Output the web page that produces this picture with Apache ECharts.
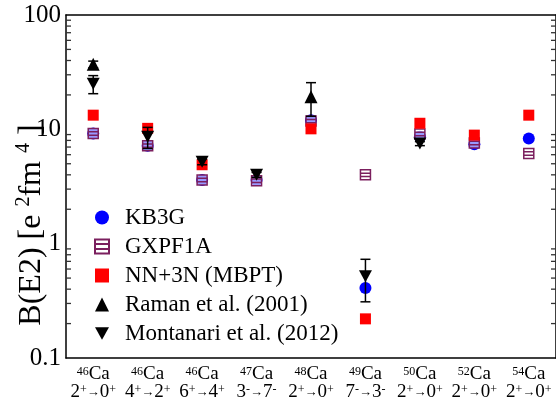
<!DOCTYPE html>
<html><head><meta charset="utf-8">
<script src="https://cdn.jsdelivr.net/npm/echarts@6/dist/echarts.min.js"></script>
<style>html,body{margin:0;padding:0;background:#fff}#c{width:556px;height:402px}</style>
</head><body><div id="c"></div>
<script>
// ---- data ----
const massNumbers = ['46','46','46','47','48','49','50','52','54'];
const initSpin    = ['2','4','6','3','2','7','2','2','2'];
const initParity  = ['+','+','+','-','+','-','+','+','+'];
const finalSpin   = ['0','2','4','7','0','3','0','0','0'];
const finalParity = ['+','+','+','-','+','-','+','+','+'];
const categories  = massNumbers.map((m,i)=>m+'Ca '+initSpin[i]+initParity[i]+'→'+finalSpin[i]+finalParity[i]);

const kb3g      = [9.2, 7.2, 3.6, 3.6, 12.0, 0.41, 8.6, 7.4, 8.3];
const gxpf1a    = [9.2, 7.2, 3.6, 3.55, 11.8, 4.0, 9.1, 7.6, 6.15];
const nn3n      = [13.3, 10.2, 4.9, null, 10.1, 0.22, 11.3, 8.9, 13.3];
const raman     = [37, null, null, null, 19.3, null, null, null, null];
const ramanErr  = [2.5, null, null, null, 6.3, null, null, null, null];
const montanari = [25, 8.6, 5.2, 4.0, null, 0.52, 7.5, null, null];
const montErr   = [4.5, 1.8, 0.3, 0.2, null, 0.21, 0.3, null, null];
const yTicks = [0.1, 1, 10, 100];
const minorMult = [2,3,4,5,6,7,8,9];

const FONT = "'Liberation Serif', 'Times New Roman', Times, serif";
const series = [];
function pts(arr){ return arr.map((v,i)=> v==null? null : [i, v]).filter(d=>d); }
function errs(v, e){ const out=[]; v.forEach((x,i)=>{ if(x!=null && e[i]!=null) out.push([i, x-e[i], x+e[i]]); }); return out; }
const downTri = 'path://M0,0 L10,0 L5,9 Z';
const hatchSq = 'path://M0,0 L10,0 L10,10 L0,10 Z M0,3.3 L10,3.3 M0,6.7 L10,6.7';

series.push({name:'KB3G', type:'scatter', data:pts(kb3g), symbol:'circle', symbolSize:12,
  itemStyle:{color:'#0000ff', opacity:1}, z:2});
series.push({name:'GXPF1A', type:'scatter', data:pts(gxpf1a), symbol:hatchSq, symbolSize:10,
  itemStyle:{color:'rgba(255,255,255,0.6)', borderColor:'#7b1f5e', borderWidth:1.5, opacity:1}, z:3});
series.push({name:'NN+3N (MBPT)', type:'scatter', data:pts(nn3n), symbol:'rect', symbolSize:11,
  itemStyle:{color:'#ff0000', opacity:1}, z:4});
function errSeries(d){
  return {type:'custom', data:d, encode:{x:0,y:[1,2]}, z:5, silent:true,
    renderItem:function(params, api){
      const p1 = api.coord([api.value(0), api.value(1)]);
      const p2 = api.coord([api.value(0), api.value(2)]);
      const w = 5;
      const st = {stroke:'#000', lineWidth:1.5};
      return {type:'group', children:[
        {type:'line', shape:{x1:p1[0],y1:p1[1],x2:p2[0],y2:p2[1]}, style:st},
        {type:'line', shape:{x1:p1[0]-w,y1:p1[1],x2:p1[0]+w,y2:p1[1]}, style:st},
        {type:'line', shape:{x1:p2[0]-w,y1:p2[1],x2:p2[0]+w,y2:p2[1]}, style:st}
      ]};
    }};
}
series.push(errSeries(errs(raman, ramanErr)));
series.push(errSeries(errs(montanari, montErr)));
series.push({name:'Raman et al. (2001)', type:'scatter', data:pts(raman), symbol:'triangle', symbolSize:13,
  itemStyle:{color:'#000', opacity:1}, z:6});
series.push({name:'Montanari et al. (2012)', type:'scatter', data:pts(montanari), symbol:downTri, symbolSize:[13,12],
  itemStyle:{color:'#000', opacity:1}, z:6});
// minor log ticks on both sides
const minorVals = [];
yTicks.slice(0,-1).forEach(d=>minorMult.forEach(m=>minorVals.push([0, d*m])));
series.push({type:'custom', data:minorVals, encode:{x:0,y:1}, z:1, silent:true, clip:false,
  renderItem:function(params, api){
    const p = api.coord([0, api.value(1)]);
    const cs = params.coordSys;
    const st = {stroke:'#333', lineWidth:1.3};
    return {type:'group', children:[
      {type:'line', shape:{x1:cs.x, y1:p[1], x2:cs.x+5, y2:p[1]}, style:st},
      {type:'line', shape:{x1:cs.x+cs.width, y1:p[1], x2:cs.x+cs.width-5, y2:p[1]}, style:st}
    ]};
  }});

const sup = {fontSize:12, fontFamily:FONT, color:'#000', verticalAlign:'top', lineHeight:12};
const opt = {
  animation:false,
  textStyle:{fontFamily:FONT},
  grid:{left:66, right:0, top:15, bottom:44},
  xAxis:[{type:'category', data:categories, boundaryGap:true,
    axisLine:{lineStyle:{color:'#000', width:1.5}},
    axisTick:{inside:true, alignWithLabel:true, length:9, lineStyle:{color:'#000', width:1.3}},
    splitLine:{show:false},
    axisLabel:{interval:0, margin:8, color:'#000', fontFamily:FONT,
      formatter:function(v, i){
        return '{s|'+massNumbers[i]+'}{m|Ca}\n{m|'+initSpin[i]+'}{s|'+initParity[i]+'}{a|→}{m|'+finalSpin[i]+'}{s|'+finalParity[i]+'}';
      },
      rich:{
        s:sup,
        m:{fontSize:19, fontFamily:FONT, color:'#000', verticalAlign:'bottom', lineHeight:18},
        a:{fontSize:13, fontFamily:FONT, color:'#000', verticalAlign:'bottom', lineHeight:14, padding:[0,0,3,0]}
      }}},
   {type:'category', data:categories, position:'top', boundaryGap:true,
    axisLine:{lineStyle:{color:'#000', width:1.5}},
    axisTick:{inside:true, alignWithLabel:true, length:9, lineStyle:{color:'#000', width:1.3}},
    axisLabel:{show:false}, splitLine:{show:false}}],
  yAxis:[{type:'log', min:0.1, max:100, logBase:10,
    axisLine:{show:true, lineStyle:{color:'#000', width:1.5}},
    axisTick:{inside:true, length:8, lineStyle:{color:'#000', width:1.3}},
    splitLine:{show:false},
    axisLabel:{color:'#000', fontFamily:FONT, fontSize:25, margin:5,
      formatter:function(v){ return String(yTicks.find(t=>Math.abs(t-v)/t<1e-6) ?? v); }}},
   {type:'log', min:0.1, max:100, logBase:10, position:'right',
    axisLine:{show:true, lineStyle:{color:'#000', width:1.5}},
    axisTick:{inside:true, length:8, lineStyle:{color:'#000', width:1.3}},
    splitLine:{show:false}, axisLabel:{show:false}}],
  legend:{orient:'vertical', left:89, top:201, itemGap:6, itemWidth:14, itemHeight:14,
    textStyle:{fontFamily:FONT, fontSize:23, color:'#000', padding:[0,0,0,11]},
    data:[
      {name:'KB3G', icon:'circle'},
      {name:'GXPF1A', icon:hatchSq},
      {name:'NN+3N (MBPT)', icon:'rect'},
      {name:'Raman et al. (2001)', icon:'triangle'},
      {name:'Montanari et al. (2012)', icon:downTri}
    ]},
  graphic:[{type:'text', x:31, y:225, rotation:Math.PI/2,
    style:{text:'{t|B(E2) [e }{u|2}{t|fm }{u|4}{t| ]}', align:'center', verticalAlign:'middle',
      rich:{t:{fontSize:32, fontFamily:FONT, color:'#000', verticalAlign:'bottom', lineHeight:34},
            u:{fontSize:20, fontFamily:FONT, color:'#000', verticalAlign:'top', lineHeight:20}}}}],
  series:series
};
const chart = echarts.init(document.getElementById('c'), null, {renderer:'canvas'});
chart.setOption(opt);
</script></body></html>
